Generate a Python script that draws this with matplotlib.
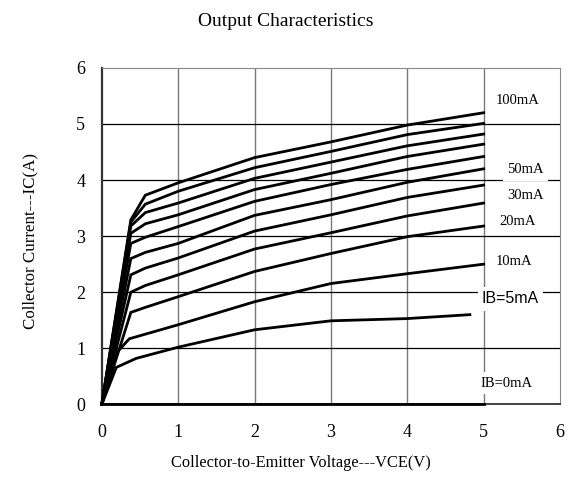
import matplotlib
matplotlib.use("Agg")
import matplotlib.pyplot as plt

# base current of each curve (mA), top to bottom
ib_ma = [100, 90, 80, 70, 60, 50, 40, 30, 20, 10, 5, 0]

# collector-emitter voltage points (V) for each curve
vce_upper = [0, 0.38, 0.57, 1, 2, 3, 4, 5]
vce_10 = [0, 0.18, 0.36, 1, 2, 3, 4, 5]
vce_5 = [0, 0.19, 0.45, 1, 2, 3, 4, 4.82]
vce_0 = [0, 5]

# collector current (A)
ic_100 = [0, 3.29, 3.73, 3.95, 4.40, 4.68, 4.98, 5.20]
ic_90 = [0, 3.25, 3.57, 3.80, 4.22, 4.51, 4.81, 5.01]
ic_80 = [0, 3.18, 3.42, 3.59, 4.03, 4.32, 4.61, 4.82]
ic_70 = [0, 3.05, 3.22, 3.38, 3.83, 4.12, 4.42, 4.64]
ic_60 = [0, 2.87, 2.98, 3.17, 3.62, 3.92, 4.19, 4.42]
ic_50 = [0, 2.60, 2.71, 2.87, 3.37, 3.65, 3.96, 4.20]
ic_40 = [0, 2.31, 2.43, 2.61, 3.09, 3.38, 3.69, 3.91]
ic_30 = [0, 2.00, 2.12, 2.31, 2.77, 3.06, 3.36, 3.59]
ic_20 = [0, 1.64, 1.73, 1.92, 2.37, 2.69, 2.99, 3.18]
ic_10 = [0, 0.90, 1.17, 1.42, 1.83, 2.155, 2.33, 2.50]
ic_5 = [0, 0.66, 0.82, 1.02, 1.33, 1.49, 1.53, 1.60]
ic_0 = [0, 0]

curves = [
    (vce_upper, ic_100), (vce_upper, ic_90), (vce_upper, ic_80),
    (vce_upper, ic_70), (vce_upper, ic_60), (vce_upper, ic_50),
    (vce_upper, ic_40), (vce_upper, ic_30), (vce_upper, ic_20),
    (vce_10, ic_10), (vce_5, ic_5), (vce_0, ic_0),
]

# curve labels and where they sit
label_text = ["100mA", "50mA", "30mA", "20mA", "10mA", "IB=5mA", "IB=0mA"]
label_x = [5.45, 5.55, 5.55, 5.45, 5.40, 5.35, 5.30]
label_y = [5.42, 4.18, 3.72, 3.26, 2.54, 1.88, 0.38]

SERIF = "Liberation Serif"

fig = plt.figure(figsize=(5.72, 4.78), dpi=100)
ax = fig.add_axes([0.178, 0.154, 0.801, 0.704])

ax.set_xlim(0, 6)
ax.set_ylim(0, 6)

# grid: grey verticals, black horizontals
for gx in range(1, 6):
    ax.axvline(gx, color="#7a7a7a", linewidth=1.0, zorder=1)
for gy in range(1, 6):
    ax.axhline(gy, color="black", linewidth=0.9, zorder=1)

for vce, ic in curves:
    ax.plot(vce, ic, color="black", linewidth=2.0, solid_joinstyle="miter",
            zorder=4, clip_on=False)

for txt, tx, ty in zip(label_text, label_x, label_y):
    fam = "Liberation Sans" if txt == "IB=5mA" else SERIF
    size = 11.5 if txt == "IB=5mA" else 10.5
    ax.text(tx, ty, txt, family=fam, fontsize=size, ha="center", va="center",
            zorder=3, bbox=dict(facecolor="white", edgecolor="none", pad=3))

ax.set_xticks(range(0, 7))
ax.set_yticks(range(0, 7))
ax.tick_params(axis="both", length=0, labelsize=13)
ax.tick_params(axis="x", pad=14)
ax.tick_params(axis="y", pad=12)
for lab in ax.get_xticklabels() + ax.get_yticklabels():
    lab.set_family(SERIF)

ax.spines["left"].set_color("#333333")
ax.spines["left"].set_linewidth(1.6)
ax.spines["bottom"].set_color("#222222")
ax.spines["bottom"].set_linewidth(1.2)
ax.spines["top"].set_color("#888888")
ax.spines["right"].set_color("#888888")

# titles centred on the figure, as in the original
fig.text(0.5, 1 - 22 / 478, "Output Characteristics", family=SERIF,
         fontsize=14, ha="center", va="center")
fig.text(301 / 572, 1 - 463 / 478, "Collector-to-Emitter Voltage---VCE(V)",
         family=SERIF, fontsize=11.8, ha="center", va="center")
fig.text(30 / 572, 1 - 241 / 478, "Collector Current---IC(A)", family=SERIF,
         fontsize=12.2, ha="center", va="center", rotation=90)

fig.savefig("out.png", dpi=100)
